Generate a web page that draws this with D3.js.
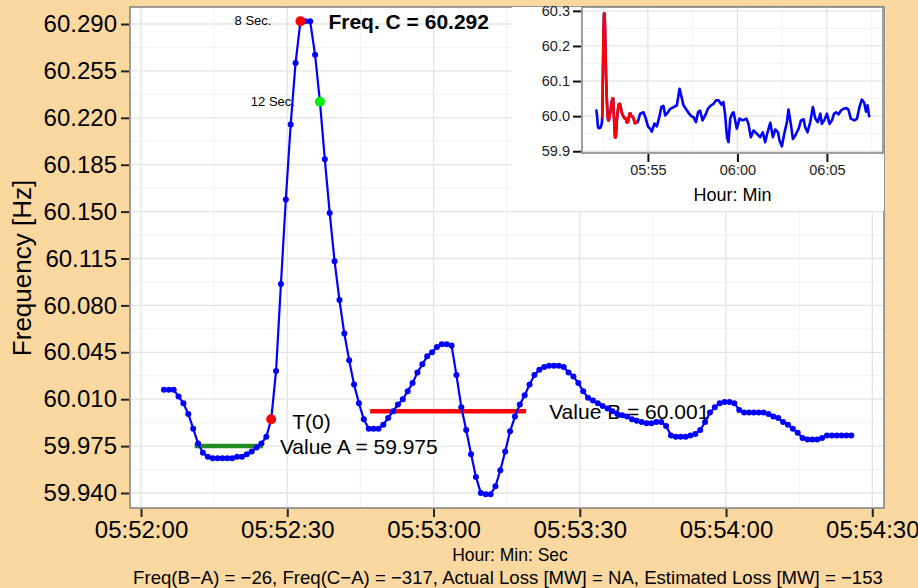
<!DOCTYPE html>
<html><head><meta charset="utf-8">
<script src="https://cdn.jsdelivr.net/npm/d3@7"></script>
<style>html,body{margin:0;padding:0;background:#FAD8A0}svg{display:block}</style>
</head><body><svg id="c" width="918" height="588"></svg>
<script>
// ---------------- data ----------------
const mainStartSec = 4.7;          // seconds after 05:52:00 of first sample
const mainStepSec = 1;             // sampling interval
const mainFreq = [
 60.017,60.017,60.017,60.012,60.007,59.999,59.988,59.977,59.970,59.967,
 59.966,59.966,59.966,59.966,59.966,59.967,59.967,59.969,59.971,59.974,
 59.977,59.982,59.995,60.031,60.096,60.159,60.215,60.261,60.292,60.292,
 60.292,60.267,60.232,60.189,60.149,60.113,60.084,60.059,60.039,60.021,
 60.007,59.995,59.988,59.988,59.988,59.991,59.996,60.001,60.006,60.010,
 60.016,60.022,60.030,60.036,60.042,60.045,60.049,60.051,60.051,60.050,
 60.028,60.004,59.987,59.969,59.952,59.940,59.939,59.939,59.945,59.957,
 59.971,59.986,59.997,60.006,60.013,60.021,60.028,60.032,60.034,60.035,
 60.035,60.035,60.034,60.030,60.027,60.022,60.016,60.011,60.009,60.007,
 60.005,60.003,60.001,59.999,59.998,59.997,59.995,59.994,59.993,59.992,
 59.992,59.993,59.993,59.990,59.983,59.982,59.982,59.982,59.983,59.984,
 59.987,59.993,60.000,60.004,60.007,60.008,60.008,60.007,60.002,60.000,
 60.000,60.000,60.000,60.000,59.999,59.997,59.996,59.993,59.991,59.988,
 59.985,59.981,59.980,59.980,59.980,59.981,59.983,59.983,59.983,59.983,
 59.983,59.983
];
const t0Index = 22, peakIndex = 28, sec12Index = 32;
const valueA = 59.975, valueAStartSec = 11, valueAEndSec = 25;
const valueB = 60.001, valueBStartSec = 47, valueBEndSec = 79;
const freqC = 60.292;
const mainXTicks = ["05:52:00","05:52:30","05:53:00","05:53:30","05:54:00","05:54:30"];
const mainXMinor = ["05:51:45","05:52:15","05:52:45","05:53:15","05:53:45","05:54:15","05:54:45"];
const mainYTicks = [59.940,59.975,60.010,60.045,60.080,60.115,60.150,60.185,60.220,60.255,60.290];

// inset: longer record after the window (seconds after 05:52:00)
const insetSec = [154,165,173,180,188,193,202,210,218,225,232,238,247,255,266,277,286,294,299,311,
 318,325,333,341,348,355,363,372,381,389,400,408,417,426,433,439,445,450,456,462,
 467,478,487,498,510,517,525,534,545,556,565,573,581,590,599,607,616,621,629,637,
 646,651,659,666,674,685,693,702,707,715,724,733,741,749,758,763,771,780,789,797,
 804,811,819,827,836,845,852,860,872,881,889,897,905,911,916,922];
const insetFreq = [60.007,60.011,59.993,59.971,59.964,59.956,59.979,59.971,59.997,60.026,
 60.029,60.002,60.011,60.021,60.026,60.031,60.078,60.050,60.031,60.016,
 60.007,60.000,59.997,59.983,60.011,60.016,59.988,60.002,60.021,60.029,
 60.035,60.045,60.045,60.033,60.040,60.002,59.940,59.926,59.993,60.007,
 60.011,59.964,59.993,59.988,59.993,59.978,59.940,59.959,59.950,59.940,
 59.954,59.926,59.954,59.981,59.940,59.962,59.954,59.931,59.914,59.950,
 59.983,60.019,59.978,59.935,59.945,59.964,59.988,59.991,59.969,59.954,
 59.983,60.026,59.993,59.983,60.007,59.978,59.988,60.007,59.978,59.988,
 60.007,60.011,60.005,60.016,60.021,60.023,60.019,59.993,59.988,59.993,
 60.026,60.047,60.038,60.013,60.031,59.997];
const insetXTicks = ["05:55","06:00","06:05"];
const insetXMinor = ["05:52:30","05:57:30","06:02:30","06:07:30"];
const insetYTicks = [59.9,60.0,60.1,60.2,60.3];
const insetYMinor = [59.95,60.05,60.15,60.25];

const footerText = "Freq(B\u2212A) = \u221226, Freq(C\u2212A) = \u2212317, Actual Loss [MW] = NA, Estimated Loss [MW] = \u2212153";

// ---------------- helpers ----------------
const FONT = "'Liberation Sans', Arial, Helvetica, sans-serif";
const parseHMS = d3.utcParse("%H:%M:%S");
const parseHM = d3.utcParse("%H:%M");
const base = parseHMS("05:52:00");
const toDate = s => new Date(+base + s * 1000);

const mainData = mainFreq.map((v, i) => ({ t: toDate(mainStartSec + i * mainStepSec), v }));
const insetExtra = insetSec.map((s, i) => ({ t: toDate(s), v: insetFreq[i] }));

const svg = d3.select("#c");
svg.append("rect").attr("width", 918).attr("height", 588).attr("fill", "#FAD8A0");

// ---------------- main panel ----------------
const P = { l: 130, r: 884, t: 7, b: 508 };
const x = d3.scaleUtc().domain([toDate(-2.26), toDate(152.4)]).range([P.l, P.r]);
const y = d3.scaleLinear().domain([59.9288, 60.3027]).range([P.b, P.t]);

svg.append("defs").append("clipPath").attr("id", "mainClip")
  .append("rect").attr("x", P.l).attr("y", P.t).attr("width", P.r - P.l).attr("height", P.b - P.t);

svg.append("rect").attr("x", P.l).attr("y", P.t).attr("width", P.r - P.l).attr("height", P.b - P.t).attr("fill", "#fff");

const grid = svg.append("g").attr("clip-path", "url(#mainClip)");
const yMinor = d3.range(mainYTicks.length + 1).map(i => mainYTicks[0] - 0.0175 + i * 0.035);
grid.selectAll(".ymn").data(yMinor).join("line")
  .attr("x1", P.l).attr("x2", P.r).attr("y1", d => y(d)).attr("y2", d => y(d))
  .attr("stroke", "#f2f2f2").attr("stroke-width", 1);
grid.selectAll(".xmn").data(mainXMinor.map(parseHMS)).join("line")
  .attr("y1", P.t).attr("y2", P.b).attr("x1", d => x(d)).attr("x2", d => x(d))
  .attr("stroke", "#f2f2f2").attr("stroke-width", 1);
grid.selectAll(".ymj").data(mainYTicks).join("line")
  .attr("x1", P.l).attr("x2", P.r).attr("y1", d => y(d)).attr("y2", d => y(d))
  .attr("stroke", "#e4e4e4").attr("stroke-width", 1.3);
grid.selectAll(".xmj").data(mainXTicks.map(parseHMS)).join("line")
  .attr("y1", P.t).attr("y2", P.b).attr("x1", d => x(d)).attr("x2", d => x(d))
  .attr("stroke", "#e4e4e4").attr("stroke-width", 1.3);

// annotation texts (under the data)
const ann = svg.append("g").attr("font-family", FONT).attr("fill", "#000");
const T0 = mainData[t0Index], PK = mainData[peakIndex], S12 = mainData[sec12Index];
ann.append("text").attr("x", x(T0.t) + 21).attr("y", y(T0.v) + 10).attr("font-size", 21).text("T(0)");
ann.append("text").attr("x", x(toDate(valueAEndSec)) + 17).attr("y", y(valueA) + 8).attr("font-size", 21)
  .text("Value A = " + d3.format(".3f")(valueA));
ann.append("text").attr("x", x(toDate(valueBEndSec)) + 23).attr("y", y(valueB) + 8).attr("font-size", 21)
  .text("Value B = " + d3.format(".3f")(valueB));
ann.append("text").attr("x", x(PK.t) - 29).attr("y", y(PK.v) + 4).attr("font-size", 13)
  .attr("text-anchor", "end").text("8 Sec.");
ann.append("text").attr("x", x(S12.t) - 25).attr("y", y(S12.v) + 4).attr("font-size", 13)
  .attr("text-anchor", "end").text("12 Sec.");
ann.append("text").attr("x", x(PK.t) + 28).attr("y", y(freqC) + 8).attr("font-size", 21)
  .attr("font-weight", "bold").text("Freq. C = " + d3.format(".3f")(freqC));

// value lines
svg.append("line").attr("x1", x(toDate(valueAStartSec))).attr("x2", x(toDate(valueAEndSec)))
  .attr("y1", y(valueA)).attr("y2", y(valueA)).attr("stroke", "#228B22").attr("stroke-width", 4.5);
svg.append("line").attr("x1", x(toDate(valueBStartSec))).attr("x2", x(toDate(valueBEndSec)))
  .attr("y1", y(valueB)).attr("y2", y(valueB)).attr("stroke", "#FF0000").attr("stroke-width", 4.5);

// data line + points
svg.append("path").datum(mainData)
  .attr("d", d3.line().x(d => x(d.t)).y(d => y(d.v)))
  .attr("fill", "none").attr("stroke", "#0000FF").attr("stroke-width", 2.2);
svg.append("g").selectAll("circle").data(mainData).join("circle")
  .attr("cx", d => x(d.t)).attr("cy", d => y(d.v)).attr("r", 3).attr("fill", "#0000FF");

svg.append("circle").attr("cx", x(T0.t)).attr("cy", y(T0.v)).attr("r", 5).attr("fill", "#FF0000");
svg.append("circle").attr("cx", x(PK.t)).attr("cy", y(PK.v)).attr("r", 5).attr("fill", "#FF0000");
svg.append("circle").attr("cx", x(S12.t)).attr("cy", y(S12.v)).attr("r", 5).attr("fill", "#00EE00");

// border
svg.append("rect").attr("x", P.l).attr("y", P.t).attr("width", P.r - P.l).attr("height", P.b - P.t)
  .attr("fill", "none").attr("stroke", "#7f7f7f").attr("stroke-width", 1.5);

// axes
const xAxis = d3.axisBottom(x).tickValues(mainXTicks.map(parseHMS))
  .tickFormat(d3.utcFormat("%H:%M:%S")).tickSize(8).tickSizeOuter(0).tickPadding(4);
const gx = svg.append("g").attr("transform", `translate(0,${P.b + 1})`).call(xAxis);
gx.select(".domain").remove();
gx.selectAll("line").attr("stroke", "#222").attr("stroke-width", 2);
gx.selectAll("text").attr("font-family", FONT).attr("font-size", 24).attr("fill", "#000");

const yAxis = d3.axisLeft(y).tickValues(mainYTicks).tickFormat(d3.format(".3f"))
  .tickSize(8).tickSizeOuter(0).tickPadding(4);
const gy = svg.append("g").attr("transform", `translate(${P.l - 1},0)`).call(yAxis);
gy.select(".domain").remove();
gy.selectAll("line").attr("stroke", "#222").attr("stroke-width", 2);
gy.selectAll("text").attr("font-family", FONT).attr("font-size", 24).attr("fill", "#000");

svg.append("text").attr("transform", `translate(31,268) rotate(-90)`)
  .attr("text-anchor", "middle").attr("font-family", FONT).attr("font-size", 26).text("Frequency [Hz]");
svg.append("text").attr("x", 510).attr("y", 561).attr("text-anchor", "middle")
  .attr("font-family", FONT).attr("font-size", 17.5).text("Hour: Min: Sec");
svg.append("text").attr("x", 508).attr("y", 584).attr("text-anchor", "middle")
  .attr("font-family", FONT).attr("font-size", 18.6).text(footerText);

// ---------------- inset ----------------
const I = { l: 582, r: 883, t: 7, b: 153 };
const ix = d3.scaleUtc().domain([toDate(-41), toDate(968)]).range([I.l, I.r]);
const iy = d3.scaleLinear().domain([59.895, 60.311]).range([I.b, I.t]);
const ig = svg.append("g");
ig.append("rect").attr("x", 512).attr("y", 7).attr("width", 884 - 512).attr("height", 211 - 7).attr("fill", "#fff");
ig.append("defs").append("clipPath").attr("id", "insClip")
  .append("rect").attr("x", I.l).attr("y", I.t).attr("width", I.r - I.l).attr("height", I.b - I.t);
const igr = ig.append("g").attr("clip-path", "url(#insClip)");
igr.selectAll(".a").data(insetYMinor).join("line").attr("x1", I.l).attr("x2", I.r)
  .attr("y1", d => iy(d)).attr("y2", d => iy(d)).attr("stroke", "#f2f2f2").attr("stroke-width", 1);
igr.selectAll(".b").data(insetXMinor.map(parseHMS)).join("line").attr("y1", I.t).attr("y2", I.b)
  .attr("x1", d => ix(d)).attr("x2", d => ix(d)).attr("stroke", "#f2f2f2").attr("stroke-width", 1);
igr.selectAll(".c").data(insetYTicks).join("line").attr("x1", I.l).attr("x2", I.r)
  .attr("y1", d => iy(d)).attr("y2", d => iy(d)).attr("stroke", "#e4e4e4").attr("stroke-width", 1.3);
igr.selectAll(".d").data(insetXTicks.map(parseHM)).join("line").attr("y1", I.t).attr("y2", I.b)
  .attr("x1", d => ix(d)).attr("x2", d => ix(d)).attr("stroke", "#e4e4e4").attr("stroke-width", 1.3);

const iline = d3.line().x(d => ix(d.t)).y(d => iy(d.v));
igr.append("path").datum(mainData.concat(insetExtra)).attr("d", iline)
  .attr("fill", "none").attr("stroke", "#0000FF").attr("stroke-width", 2.6).attr("stroke-linejoin", "round");
igr.append("path").datum(mainData.slice(t0Index)).attr("d", iline)
  .attr("fill", "none").attr("stroke", "#FF0000").attr("stroke-width", 2.6).attr("stroke-linejoin", "round");

ig.append("rect").attr("x", I.l).attr("y", I.t).attr("width", I.r - I.l).attr("height", I.b - I.t)
  .attr("fill", "none").attr("stroke", "#7f7f7f").attr("stroke-width", 1.5);

const ixAxis = d3.axisBottom(ix).tickValues(insetXTicks.map(parseHM)).tickFormat(d3.utcFormat("%H:%M"))
  .tickSize(8).tickSizeOuter(0).tickPadding(3);
const igx = ig.append("g").attr("transform", `translate(0,${I.b + 1})`).call(ixAxis);
igx.select(".domain").remove();
igx.selectAll("line").attr("stroke", "#111").attr("stroke-width", 2);
igx.selectAll("text").attr("font-family", FONT).attr("font-size", 14.5).attr("fill", "#222");
const iyAxis = d3.axisLeft(iy).tickValues(insetYTicks).tickFormat(d3.format(".1f"))
  .tickSize(8).tickSizeOuter(0).tickPadding(3);
const igy = ig.append("g").attr("transform", `translate(${I.l - 1},0)`).call(iyAxis);
igy.select(".domain").remove();
igy.selectAll("line").attr("stroke", "#111").attr("stroke-width", 2);
igy.selectAll("text").attr("font-family", FONT).attr("font-size", 14.5).attr("fill", "#222");
ig.append("text").attr("x", (I.l + I.r) / 2).attr("y", 201).attr("text-anchor", "middle")
  .attr("font-family", FONT).attr("font-size", 18).text("Hour: Min");
</script></body></html>
